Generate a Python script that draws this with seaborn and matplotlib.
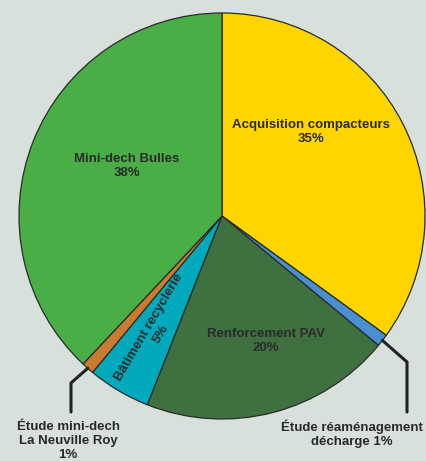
import numpy as np
import matplotlib.pyplot as plt
import seaborn as sns

labels = ["Acquisition compacteurs", "Étude réaménagement décharge", "Renforcement PAV",
          "Bâtiment recyclerie", "Étude mini-dech La Neuville Roy", "Mini-dech Bulles"]
values = [35, 1, 20, 5, 1, 38]
colors = ["#ffd500", "#4a8fd2", "#3f7140", "#00a9bb", "#c97b30", "#4aae47"]

bg = "#d8e0dc"
txt = "#2a2a2a"

sns.set_style("white")
plt.rcParams["font.family"] = ["Liberation Sans", "DejaVu Sans"]

fig = plt.figure(figsize=(4.26, 4.61), dpi=100, facecolor=bg)
ax = fig.add_axes([0, 0, 1, 1])
ax.set_facecolor(bg)

wedges, _ = ax.pie(values, colors=colors, startangle=90, counterclock=False,
                   wedgeprops=dict(edgecolor="#2a2a2a", linewidth=0.9))

# pie centre at (222, 216) px, radius 203 px
cx, cy, r = 222, 216, 203
ax.set_xlim(-cx / r, (426 - cx) / r)
ax.set_ylim((cy - 461) / r, cy / r)
ax.set_aspect("equal")
ax.axis("off")

# mid angles of each wedge (degrees, math convention)
cum = np.cumsum([0] + values)
mids = [90 - 360 * (cum[i] + values[i] / 2) / 100 for i in range(len(values))]

fs = 9.5
kw = dict(ha="center", va="center", fontsize=fs, fontweight="bold", color=txt, linespacing=1.22)

def px(x, y):
    return (x - cx) / r, (cy - y) / r

ax.text(*px(311, 132), f"{labels[0]}\n{values[0]}%", **kw)
ax.text(*px(127, 166), f"{labels[5]}\n{values[5]}%", **kw)
ax.text(*px(266, 341), f"{labels[2]}\n{values[2]}%", **kw)
ax.text(*px(155, 331), f"{labels[3]}\n{values[3]}%", rotation=mids[3] + 180, rotation_mode="anchor", **kw)

# leader lines for the two 1% slices
for i, (bx, by_top, by_bot) in [(1, (407, 362, 412)), (4, (71, 383, 412))]:
    a = np.deg2rad(mids[i])
    x0, y0 = np.cos(a), np.sin(a)
    xb, yb = px(bx, by_top)
    _, yb2 = px(bx, by_bot)
    ax.plot([x0, xb, xb], [y0, yb, yb2], color="#222222", lw=2.2, solid_joinstyle="miter")

ax.text(*px(352, 434), "Étude réaménagement\ndécharge 1%", **kw)
ax.text(*px(68, 441), "Étude mini-dech\nLa Neuville Roy\n1%", **kw)

fig.savefig("out.png", dpi=100, facecolor=bg)
